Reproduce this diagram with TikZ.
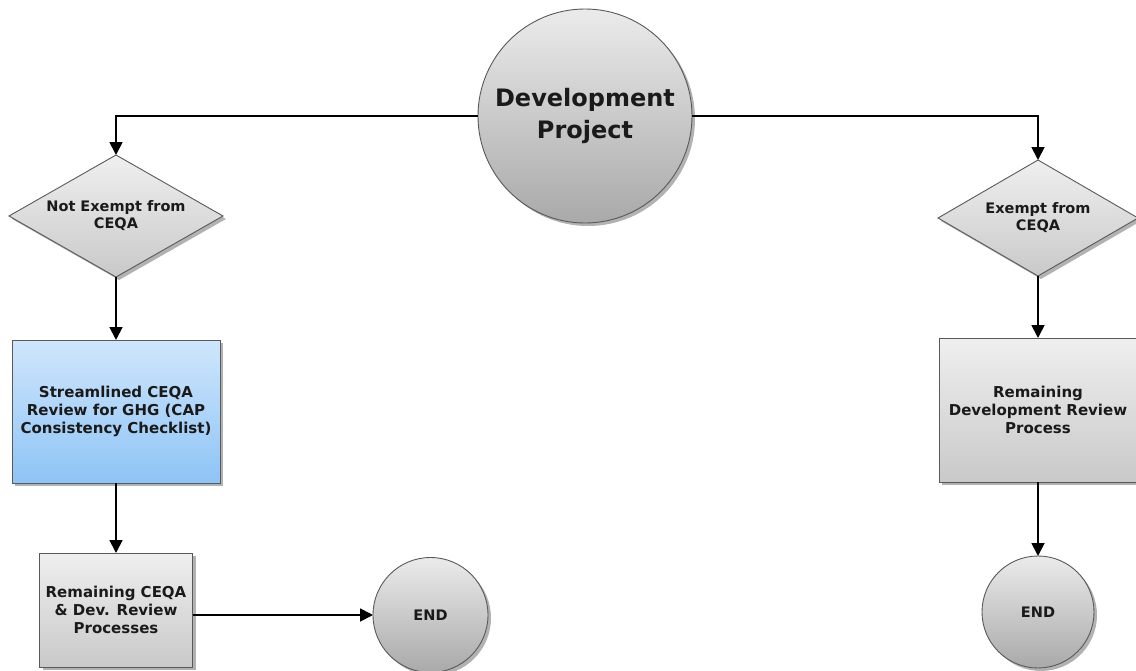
\documentclass[tikz,border=0pt]{standalone}
\usepackage{fontspec}
\setmainfont{DejaVu Sans}
\usetikzlibrary{shapes.geometric,arrows.meta,shadows}
\definecolor{gtop}{HTML}{EBEBEB}
\definecolor{gbot}{HTML}{A9A9A9}
\definecolor{btop}{HTML}{CFE6FC}
\definecolor{bbot}{HTML}{8EC4F6}
\definecolor{rtop}{HTML}{EFEFEF}
\definecolor{rbot}{HTML}{C9C9C9}
\definecolor{txt}{HTML}{1A1A1A}
\begin{document}
\begin{tikzpicture}[x=1pt,y=-1pt,
  base/.style={draw=black!65, line width=0.9pt, font=\bfseries, align=center, text=txt,
    inner sep=0pt, outer sep=0pt,
    drop shadow={shadow xshift=3pt, shadow yshift=-3pt, opacity=0.3, fill=black}},
  circ/.style={base, circle, top color=gtop, bottom color=gbot},
  dia/.style={base, diamond, top color=rtop, bottom color=rbot},
  dtext/.style={font=\bfseries\fontsize{14.5}{17}\selectfont, align=center, text=txt},
  gbox/.style={base, rectangle, top color=rtop, bottom color=rbot},
  bbox/.style={base, rectangle, top color=btop, bottom color=bbot},
  btext/.style={font=\bfseries\fontsize{15}{18}\selectfont},
  conn/.style={line width=1.8pt, -{Triangle[length=13pt,width=13pt]}}
]
\useasboundingbox (0,0) rectangle (1136,670);
\node[circ, minimum size=214pt, font=\bfseries\fontsize{24}{32}\selectfont] (dev) at (585,116) {Development\\Project};
\node[dia, minimum width=214pt, minimum height=122pt,
  label={[dtext]center:Not Exempt from\\CEQA}] (ne) at (116,216) {};
\node[dia, minimum width=200pt, minimum height=116pt,
  label={[dtext]center:Exempt from\\CEQA}] (ex) at (1038,218) {};
\node[bbox, btext, minimum width=208pt, minimum height=143pt] (blue) at (116,411.5) {Streamlined CEQA\\Review for GHG (CAP\\Consistency Checklist)};
\node[gbox, btext, minimum width=153pt, minimum height=114pt] (rem) at (116,610) {Remaining CEQA\\\& Dev. Review\\Processes};
\node[gbox, btext, minimum width=198pt, minimum height=144pt] (exbox) at (1038,410) {Remaining\\Development Review\\Process};
\node[circ, minimum size=115pt, font=\bfseries\fontsize{14.5}{16}\selectfont] (end1) at (430.5,615) {END};
\node[circ, minimum size=112pt, font=\bfseries\fontsize{14.5}{16}\selectfont] (end2) at (1038,612) {END};
\draw[conn] (dev.west) -| (ne.north);
\draw[conn] (dev.east) -| (ex.north);
\draw[conn] (ne.south) -- (blue.north);
\draw[conn] (blue.south) -- (rem.north);
\draw[conn] (end1.west -| rem.east) -- (end1.west);
\draw[conn] (ex.south) -- (exbox.north);
\draw[conn] (exbox.south) -- (end2.north);
\end{tikzpicture}
\end{document}
